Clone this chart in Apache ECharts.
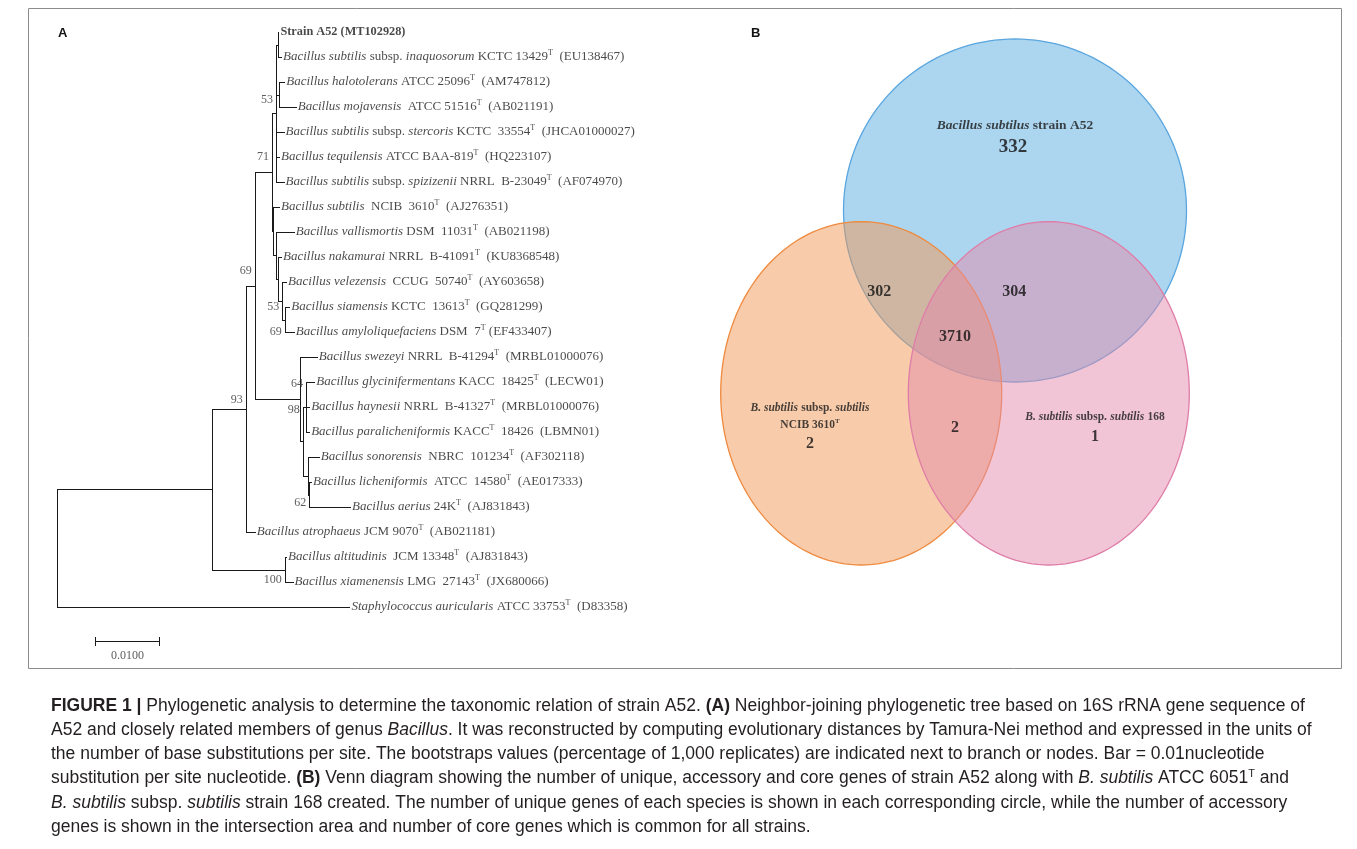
<!DOCTYPE html>
<html>
<head>
<meta charset="utf-8">
<script src="https://cdn.jsdelivr.net/npm/echarts@6/dist/echarts.min.js"></script>
<style>
  html, body { margin: 0; padding: 0; background: #fff; }
  #main { width: 1357px; height: 849px; }
</style>
</head>
<body>
<div id="main"></div>
<script>
// ---- panel A: tree data (leaves top to bottom, depth = substitutions per site from root)
var leafLabels = [
  '{b|Strain A52 (MT102928)}',
  '{i|Bacillus subtilis} subsp. {i|inaquosorum} KCTC 13429{s|T}  (EU138467)',
  '{i|Bacillus halotolerans} ATCC 25096{s|T}  (AM747812)',
  '{i|Bacillus mojavensis}  ATCC 51516{s|T}  (AB021191)',
  '{i|Bacillus subtilis} subsp. {i|stercoris} KCTC  33554{s|T}  (JHCA01000027)',
  '{i|Bacillus tequilensis} ATCC BAA-819{s|T}  (HQ223107)',
  '{i|Bacillus subtilis} subsp. {i|spizizenii} NRRL  B-23049{s|T}  (AF074970)',
  '{i|Bacillus subtilis}  NCIB  3610{s|T}  (AJ276351)',
  '{i|Bacillus vallismortis} DSM  11031{s|T}  (AB021198)',
  '{i|Bacillus nakamurai} NRRL  B-41091{s|T}  (KU8368548)',
  '{i|Bacillus velezensis}  CCUG  50740{s|T}  (AY603658)',
  '{i|Bacillus siamensis} KCTC  13613{s|T}  (GQ281299)',
  '{i|Bacillus amyloliquefaciens} DSM  7{s|T} (EF433407)',
  '{i|Bacillus swezeyi} NRRL  B-41294{s|T}  (MRBL01000076)',
  '{i|Bacillus glycinifermentans} KACC  18425{s|T}  (LECW01)',
  '{i|Bacillus haynesii} NRRL  B-41327{s|T}  (MRBL01000076)',
  '{i|Bacillus paralicheniformis} KACC{s|T}  18426  (LBMN01)',
  '{i|Bacillus sonorensis}  NBRC  101234{s|T}  (AF302118)',
  '{i|Bacillus licheniformis}  ATCC  14580{s|T}  (AE017333)',
  '{i|Bacillus aerius} 24K{s|T}  (AJ831843)',
  '{i|Bacillus atrophaeus} JCM 9070{s|T}  (AB021181)',
  '{i|Bacillus altitudinis}  JCM 13348{s|T}  (AJ831843)',
  '{i|Bacillus xiamenensis} LMG  27143{s|T}  (JX680066)',
  '{i|Staphylococcus auricularis} ATCC 33753{s|T}  (D83358)'
];
var leafDepth = [0.0346, 0.0350, 0.0355, 0.0373, 0.0354, 0.0347, 0.0354, 0.0347,
  0.0370, 0.0350, 0.0358, 0.0363, 0.0370, 0.0406, 0.0402, 0.0394, 0.0394, 0.0409,
  0.0397, 0.0458, 0.0309, 0.0358, 0.0368, 0.0457];

// internal nodes: children are leaf indices (numbers) or node ids
var nodeIds = ['root', 'bac', 'n100', 'n93', 'n69', 'nL', 'n98', 'n64', 'nSL', 'n62',
  'n71', 'n53', 'nS', 'nH', 'nB', 'nV', 'nN', 'n53b', 'n69b'];
var nodeDepth = [0, 0.0242, 0.0356, 0.0295, 0.0309, 0.0380, 0.0384, 0.0389, 0.0392, 0.0394,
  0.0336, 0.0342, 0.0345, 0.0347, 0.0338, 0.0342, 0.0345, 0.0352, 0.0356];
var nodeKids = [
  ['bac', 23], ['n93', 'n100'], [21, 22], ['n69', 20], ['n71', 'nL'], [13, 'n98'],
  ['n64', 'nSL'], [14, 15, 16], [17, 'n62'], [18, 19], ['n53', 'nB'],
  ['nS', 'nH', 4, 5, 6], [0, 1], [2, 3], [7, 'nV'], [8, 'nN'], [9, 'n53b'],
  [10, 'n69b'], [11, 12]
];
var nodeSupport = [null, null, 100, 93, 69, null, 98, 64, null, 62, 71, 53,
  null, null, null, null, null, 53, 69];
var scaleBarLength = 0.01;
var scaleBarText = '0.0100';

// ---- panel B: Venn data
var vennSets = [
  '{bi|Bacillus subtilus} {b|strain A52}',
  '{bi2|B. subtilis} {b2|subsp.} {bi2|subtilis}\n{b2|NCIB 3610}{bs|T}',
  '{bi2|B. subtilis} {b2|subsp.} {bi2|subtilis} {b2|168}'
];
var vennRegions = ['A52', '3610', '168', 'A52&3610', 'A52&168', '3610&168', 'all'];
var vennCounts = [332, 2, 1, 302, 304, 2, 3710];

var captionLines = [
  '{b|FIGURE 1 |} Phylogenetic analysis to determine the taxonomic relation of strain A52. {b|(A)} Neighbor-joining phylogenetic tree based on 16S rRNA gene sequence of',
  'A52 and closely related members of genus {i|Bacillus}. It was reconstructed by computing evolutionary distances by Tamura-Nei method and expressed in the units of',
  'the number of base substitutions per site. The bootstraps values (percentage of 1,000 replicates) are indicated next to branch or nodes. Bar = 0.01nucleotide',
  'substitution per site nucleotide. {b|(B)} Venn diagram showing the number of unique, accessory and core genes of strain A52 along with {i|B. subtilis} ATCC 6051{s|T} and',
  '{i|B. subtilis} subsp. {i|subtilis} strain 168 created. The number of unique genes of each species is shown in each corresponding circle, while the number of accessory',
  'genes is shown in the intersection area and number of core genes which is common for all strains.'
];

// ---- layout (pixels / styles)
var serif = 'Liberation Serif';
var sans = 'Liberation Sans';
var capSize = 17.5;
var supportShift = { n100: 10, n93: -9, n69: -15, n98: -32, n64: -23, n62: 8, n71: -15, n53: -13, n53b: 6, n69b: 12 };
var vennShapes = [ // cx, cy, rx, ry in venn grid units
  [315, 190.5, 171.5, 171.5],
  [161.2, 373.3, 140.5, 171.7],
  [348.8, 373.3, 140.5, 171.7]
];
var vennFill = ['rgba(89,171,223,0.5)', 'rgba(241,151,85,0.5)', 'rgba(227,139,171,0.5)'];
var vennStroke = ['#5aa6df', '#ef8a3e', '#df7da7'];
var vennSetPos = [[315, 106], [110, 396.5], [395, 396.7]];
var vennCountPos = [[313, 127], [110, 423.5], [395, 416.7], [179.3, 271.7], [314.3, 271.7], [255, 408], [255, 316.7]];
var vennCountSize = [19, 16, 16, 16, 16, 16, 16];

// ---- build tree geometry
function idx(id) { return nodeIds.indexOf(id); }
function childY(c) {
  if (typeof c === 'number') return c;
  var kids = nodeKids[idx(c)];
  return (childY(kids[0]) + childY(kids[kids.length - 1])) / 2;
}
function childD(c) { return typeof c === 'number' ? leafDepth[c] : nodeDepth[idx(c)]; }

var segments = [];
nodeIds.forEach(function (id, k) {
  var kids = nodeKids[k], d = nodeDepth[k];
  segments.push([d, childY(kids[0]), d, childY(kids[kids.length - 1])]);
  kids.forEach(function (c) { segments.push([d, childY(c), childD(c), childY(c)]); });
});
var sbX = 0.006, sbY = 24.36;
segments.push([sbX, sbY, sbX + scaleBarLength, sbY]);
segments.push([sbX, sbY - 0.16, sbX, sbY + 0.16]);
segments.push([sbX + scaleBarLength, sbY - 0.16, sbX + scaleBarLength, sbY + 0.16]);

var supportData = [];
nodeIds.forEach(function (id, k) {
  if (nodeSupport[k] == null) return;
  supportData.push({
    value: [nodeDepth[k], childY(id), nodeSupport[k]],
    label: { offset: [0, supportShift[id] || 0] }
  });
});

function snap(v) { return Math.round(v) + 0.5; }

function renderSeg(params, api) {
  var a = api.coord([api.value(0), api.value(1)]);
  var b = api.coord([api.value(2), api.value(3)]);
  return {
    type: 'line',
    shape: { x1: snap(a[0]), y1: snap(a[1]), x2: snap(b[0]), y2: snap(b[1]) },
    style: { stroke: '#1a1a1a', lineWidth: 1, lineCap: 'square' }
  };
}

function renderVenn(params, api) {
  var i = params.dataIndex;
  var pts = [];
  for (var k = 0; k < 160; k++) {
    var t = k / 160 * Math.PI * 2;
    pts.push(api.coord([api.value(0) + api.value(2) * Math.cos(t), api.value(1) + api.value(3) * Math.sin(t)]));
  }
  return { type: 'polygon', shape: { points: pts }, style: { fill: vennFill[i], stroke: vennStroke[i], lineWidth: 1.3 } };
}

var leafRich = {
  i: { fontFamily: serif, fontSize: 13, fontStyle: 'italic', color: '#1a1a1a' },
  b: { fontFamily: serif, fontSize: 12.3, fontWeight: 'bold', color: '#1a1a1a' },
  s: { fontFamily: serif, fontSize: 8, color: '#1a1a1a', padding: [0, 0, 8, 0] }
};
var vennRich = {
  bi: { fontFamily: serif, fontSize: 13.5, fontWeight: 'bold', fontStyle: 'italic', color: '#1a1a1a' },
  b: { fontFamily: serif, fontSize: 13.5, fontWeight: 'bold', color: '#1a1a1a' },
  bi2: { fontFamily: serif, fontSize: 11.5, fontWeight: 'bold', fontStyle: 'italic', color: '#1a1a1a', lineHeight: 17 },
  b2: { fontFamily: serif, fontSize: 11.5, fontWeight: 'bold', color: '#1a1a1a', lineHeight: 17 },
  bs: { fontFamily: serif, fontSize: 7, fontWeight: 'bold', color: '#1a1a1a', padding: [0, 0, 7, 0] }
};
var capRich = {
  b: { fontFamily: sans, fontSize: capSize, fontWeight: 'bold', color: '#231f20' },
  i: { fontFamily: sans, fontSize: capSize, fontStyle: 'italic', color: '#231f20' },
  s: { fontFamily: sans, fontSize: 11, color: '#231f20', padding: [0, 0, 9, 0] }
};

var chart = echarts.init(document.getElementById('main'));
var option = {
  animation: false,
  grid: [
    { left: 57, top: 32, width: 640, height: 625 },
    { left: 700, top: 20, width: 640, height: 560 }
  ],
  xAxis: [
    { type: 'value', gridIndex: 0, min: 0, max: 0.1, show: false },
    { type: 'value', gridIndex: 1, min: 0, max: 640, show: false }
  ],
  yAxis: [
    { type: 'value', gridIndex: 0, min: 0, max: 25, inverse: true, show: false },
    { type: 'value', gridIndex: 1, min: 0, max: 560, inverse: true, show: false }
  ],
  series: [
    {
      type: 'custom', xAxisIndex: 0, yAxisIndex: 0, silent: true,
      renderItem: renderSeg, data: segments, encode: { x: [0, 2], y: [1, 3] }
    },
    {
      type: 'scatter', xAxisIndex: 0, yAxisIndex: 0, symbolSize: 0, silent: true,
      data: leafDepth.map(function (d, i) { return [d, i]; }),
      label: {
        show: true, position: 'right', distance: 2,
        fontFamily: serif, fontSize: 13, color: '#1a1a1a',
        formatter: function (p) { return leafLabels[p.dataIndex]; },
        rich: leafRich
      }
    },
    {
      type: 'scatter', xAxisIndex: 0, yAxisIndex: 0, symbolSize: 0, silent: true,
      data: supportData,
      label: {
        show: true, position: 'left', distance: 3,
        fontFamily: serif, fontSize: 12, color: '#333',
        formatter: function (p) { return p.value[2]; }
      }
    },
    {
      type: 'scatter', xAxisIndex: 0, yAxisIndex: 0, symbolSize: 0, silent: true,
      data: [[sbX + scaleBarLength / 2, sbY]],
      label: {
        show: true, position: 'bottom', distance: 9,
        fontFamily: serif, fontSize: 12, color: '#333',
        formatter: function () { return scaleBarText; }
      }
    },
    {
      type: 'custom', xAxisIndex: 1, yAxisIndex: 1, silent: true,
      renderItem: renderVenn, data: vennShapes
    },
    {
      type: 'scatter', xAxisIndex: 1, yAxisIndex: 1, symbolSize: 0, silent: true,
      data: vennSetPos.map(function (p, i) { return { value: p, name: vennRegions[i] }; }),
      label: {
        show: true, position: 'inside', align: 'center', verticalAlign: 'middle',
        formatter: function (p) { return vennSets[p.dataIndex]; },
        rich: vennRich
      }
    },
    {
      type: 'scatter', xAxisIndex: 1, yAxisIndex: 1, symbolSize: 0, silent: true,
      data: vennCounts.map(function (c, i) {
        return { name: vennRegions[i], value: vennCountPos[i].concat(c), label: { fontSize: vennCountSize[i] } };
      }),
      label: {
        show: true, position: 'inside',
        fontFamily: serif, fontWeight: 'bold', color: '#111',
        formatter: function (p) { return p.value[2]; }
      }
    }
  ],
  graphic: [
    { type: 'rect', shape: { x: 28.5, y: 8.5, width: 1313, height: 660 }, style: { fill: 'none', stroke: '#8c8c8c', lineWidth: 1 }, silent: true },
    { type: 'text', x: 58, y: 33, style: { text: 'A', fontFamily: sans, fontSize: 13, fontWeight: 'bold', fill: '#111', verticalAlign: 'middle' } },
    { type: 'text', x: 751, y: 33, style: { text: 'B', fontFamily: sans, fontSize: 13, fontWeight: 'bold', fill: '#111', verticalAlign: 'middle' } }
  ].concat(captionLines.map(function (t, i) {
    return {
      type: 'text', x: 51, y: 706 + i * 24.2,
      style: { text: t, fontFamily: sans, fontSize: capSize, fill: '#231f20', verticalAlign: 'middle', rich: capRich }
    };
  }))
};
chart.setOption(option);
</script>
</body>
</html>
